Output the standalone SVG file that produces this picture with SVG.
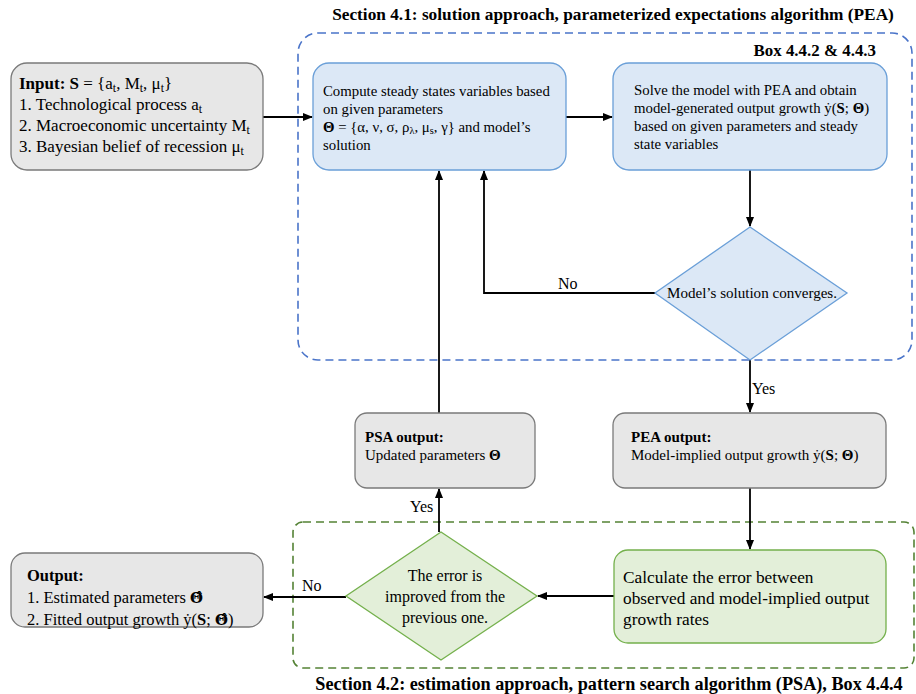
<svg xmlns="http://www.w3.org/2000/svg" width="916" height="694" viewBox="0 0 916 694">
<defs>
<marker id="ah" markerWidth="10" markerHeight="8" refX="9" refY="4" orient="auto" markerUnits="userSpaceOnUse">
<path d="M0,0 L10,4 L0,8 z" fill="#000"/>
</marker>
<style>
text{font-family:"Liberation Serif","DejaVu Serif",serif;fill:#000}
.b{font-weight:bold}
.m{font-family:"DejaVu Serif",serif;font-weight:bold;font-size:90%}
.gray{fill:#e7e7e7;stroke:#7a7a7a;stroke-width:1.3}
.blue{fill:#dce8f6;stroke:#6a9fd8;stroke-width:1.3}
.green{fill:#e3efd9;stroke:#74b04c;stroke-width:1.3}
.con{fill:none;stroke:#000;stroke-width:1.8}
.sub{font-size:70%}
</style>
</defs>
<rect width="916" height="694" fill="#fff"/>
<!-- sections -->
<g id="section41">
<rect x="298" y="33" width="614" height="327" rx="20" fill="none" stroke="#4a74c9" stroke-width="1.6" stroke-dasharray="8,5"/>
<text x="613" y="20" text-anchor="middle" class="b" font-size="17.3">Section 4.1: solution approach, parameterized expectations algorithm (PEA)</text>
<text x="876" y="56" text-anchor="end" class="b" font-size="16.9">Box 4.4.2 &amp; 4.4.3</text>
</g>
<g id="section42">
<rect x="293" y="522" width="621" height="146" rx="10" fill="none" stroke="#548235" stroke-width="1.6" stroke-dasharray="8,5"/>
<text x="609" y="690" text-anchor="middle" class="b" font-size="18.2">Section 4.2: estimation approach, pattern search algorithm (PSA), Box 4.4.4</text>
</g>
<!-- connectors -->
<g id="connectors">
<line class="con" x1="263" y1="117" x2="312" y2="117" marker-end="url(#ah)"/>
<line class="con" x1="566" y1="117" x2="612" y2="117" marker-end="url(#ah)"/>
<line class="con" x1="750" y1="170" x2="750" y2="226" marker-end="url(#ah)"/>
<polyline class="con" points="655,293 484,293 484,171" marker-end="url(#ah)"/>
<text x="558" y="289" font-size="16">No</text>
<line class="con" x1="439" y1="413" x2="439" y2="171" marker-end="url(#ah)"/>
<line class="con" x1="750" y1="360" x2="750" y2="412" marker-end="url(#ah)"/>
<text x="752" y="394" font-size="16">Yes</text>
<line class="con" x1="750" y1="488" x2="750" y2="549" marker-end="url(#ah)"/>
<line class="con" x1="614" y1="596" x2="538" y2="596" marker-end="url(#ah)"/>
<line class="con" x1="346" y1="597" x2="264" y2="597" marker-end="url(#ah)"/>
<text x="302" y="591" font-size="16">No</text>
<line class="con" x1="439" y1="532" x2="439" y2="489" marker-end="url(#ah)"/>
<text x="410" y="512" font-size="16">Yes</text>
</g>
<!-- nodes -->
<g id="input">
<rect class="gray" x="11" y="63" width="252" height="107" rx="16"/>
<text x="19" y="89" font-size="17"><tspan class="b">Input:</tspan>  <tspan class="b">S</tspan> = {a<tspan class="sub" dy="3">t</tspan><tspan dy="-3">, M</tspan><tspan class="sub" dy="3">t</tspan><tspan dy="-3">, μ</tspan><tspan class="sub" dy="3">t</tspan><tspan dy="-3">}</tspan></text>
<text x="19" y="110" font-size="17">1. Technological process a<tspan class="sub" dy="3">t</tspan></text>
<text x="19" y="131" font-size="17">2. Macroeconomic uncertainty M<tspan class="sub" dy="3">t</tspan></text>
<text x="19" y="152" font-size="17">3. Bayesian belief of recession μ<tspan class="sub" dy="3">t</tspan></text>
</g>
<g id="compute">
<rect class="blue" x="313" y="63" width="253" height="107" rx="16"/>
<text x="323" y="96" font-size="14.8">Compute steady states variables based</text>
<text x="323" y="114" font-size="14.8">on given parameters</text>
<text x="323" y="132" font-size="14.8"><tspan class="b">Θ</tspan> = {α, ν, σ, ρ<tspan class="sub" dy="2">λ</tspan><tspan dy="-2">, μ</tspan><tspan class="sub" dy="2">s</tspan><tspan dy="-2">, γ} and model’s</tspan></text>
<text x="323" y="150" font-size="14.8">solution</text>
</g>
<g id="solve">
<rect class="blue" x="613" y="63" width="274" height="107" rx="16"/>
<text x="634" y="95" font-size="14.8">Solve the model with PEA and obtain</text>
<text x="634" y="113" font-size="14.8">model-generated output growth ẏ(<tspan class="b">S</tspan>; <tspan class="b">Θ</tspan>)</text>
<text x="634" y="131" font-size="14.8">based on given parameters and steady</text>
<text x="634" y="149" font-size="14.8">state variables</text>
</g>
<g id="converge">
<polygon class="blue" points="750,227 847,293 750,360 655,293"/>
<text x="752" y="298" text-anchor="middle" font-size="15" textLength="170" lengthAdjust="spacingAndGlyphs">Model’s solution converges.</text>
</g>
<g id="psaout">
<rect class="gray" x="355" y="413" width="180" height="75" rx="12"/>
<text x="365" y="442" class="b" font-size="15">PSA output:</text>
<text x="365" y="460" font-size="15">Updated parameters <tspan class="b">Θ</tspan></text>
</g>
<g id="peaout">
<rect class="gray" x="613" y="413" width="273" height="75" rx="12"/>
<text x="631" y="442" class="b" font-size="15">PEA output:</text>
<text x="631" y="460" font-size="15">Model-implied  output growth ẏ(<tspan class="b">S</tspan>; <tspan class="b">Θ</tspan>)</text>
</g>
<g id="calc">
<rect class="green" x="614" y="550" width="272" height="93" rx="14"/>
<text x="623" y="583" font-size="17.3">Calculate the error between</text>
<text x="623" y="604" font-size="17.3">observed and model-implied output</text>
<text x="623" y="625" font-size="17.3">growth rates</text>
</g>
<g id="improved">
<polygon class="green" points="441,532 537,596 441,660 346,596"/>
<text x="445" y="581" text-anchor="middle" font-size="16">The error is</text>
<text x="445" y="602" text-anchor="middle" font-size="16">improved from the</text>
<text x="445" y="623" text-anchor="middle" font-size="16">previous one.</text>
</g>
<g id="output">
<rect class="gray" x="11" y="553" width="252" height="74" rx="14"/>
<text x="27" y="581" class="b" font-size="16.5">Output:</text>
<text x="27" y="603" font-size="16.5">1. Estimated parameters <tspan class="m">Θ̂</tspan></text>
<text x="27" y="625" font-size="16.5">2. Fitted output growth ẏ(<tspan class="b">S</tspan>; <tspan class="m">Θ̂</tspan>)</text>
</g>
</svg>
